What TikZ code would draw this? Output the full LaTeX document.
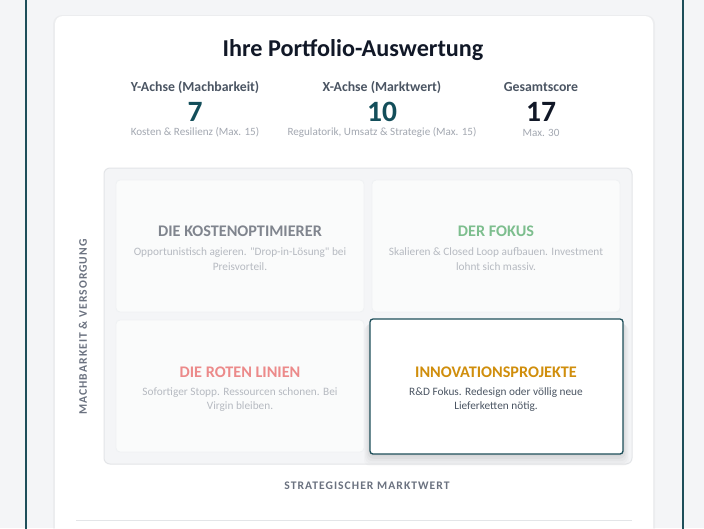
\documentclass[tikz,border=0pt]{standalone}
\usepackage{fontspec}
\setmainfont{Carlito}
\newfontfamily\spacedfont[LetterSpace=9]{Carlito}
\newfontfamily\descfont{Carlito}
\definecolor{pagebg}{HTML}{F4F5F7}
\definecolor{frameteal}{HTML}{1E4F5A}
\definecolor{titlecol}{HTML}{111827}
\definecolor{labelcol}{HTML}{4B5563}
\definecolor{subcol}{HTML}{A3A8B1}
\definecolor{numteal}{HTML}{134E5A}
\definecolor{boxbg}{HTML}{F4F5F7}
\definecolor{boxline}{HTML}{E3E5E8}
\definecolor{cellbg}{HTML}{FAFBFB}
\definecolor{cellline}{HTML}{EFF1F3}
\definecolor{fadegray}{HTML}{80858E}
\definecolor{fadegreen}{HTML}{7DBE8E}
\definecolor{fadered}{HTML}{EC8A8A}
\definecolor{amber}{HTML}{D08E0C}
\definecolor{fadetext}{HTML}{B6BAC1}
\definecolor{activetext}{HTML}{4B5563}
\definecolor{axiscol}{HTML}{6B7280}
\begin{document}
\begin{tikzpicture}[x=1pt,y=-1pt,
  stitle/.style={font=\fontsize{13.8}{16}\selectfont\bfseries, text=labelcol, inner sep=0},
  snum/.style={font=\fontsize{29.5}{32}\selectfont\bfseries, text=numteal, inner sep=0},
  ssub/.style={font=\fontsize{11.1}{13}\selectfont, text=subcol, inner sep=0},
  cell/.style={draw=cellline, fill=cellbg, rounded corners=4pt, line width=0.8pt},
  ctitle/.style={font=\fontsize{16.2}{18}\selectfont\bfseries, inner sep=0},
  cdesc/.style={font=\fontsize{11.3}{14.5}\descfont, text=fadetext, align=center, inner sep=0},
  axislabel/.style={font=\fontsize{11.6}{13}\spacedfont\bfseries, text=axiscol, inner sep=0}
]
\useasboundingbox (0,0) rectangle (704,528);
\fill[pagebg] (0,0) rectangle (704,528);
% card
\fill[black, opacity=0.03] (53,15) [rounded corners=9pt] rectangle (655,540);
\fill[white, rounded corners=8pt] (55,16) rectangle (653,540);
% outer frame lines
\draw[frameteal, line width=1.6pt] (25.8,-2) -- (25.8,530);
\draw[frameteal, line width=1.6pt] (683,-2) -- (683,530);
% title and stats
\node[font=\fontsize{24.2}{28}\selectfont\bfseries, text=titlecol, inner sep=0] (title) at (353,50) {Ihre Portfolio-Auswertung};
\node[stitle] (ylab) at (195,87) {Y-Achse (Machbarkeit)};
\node[stitle] (xlab) at (382,87) {X-Achse (Marktwert)};
\node[stitle] (glab) at (541,87) {Gesamtscore};
\node[snum] (ynum) at (195,112) {7};
\node[snum] (xnum) at (382,112) {10};
\node[snum, text=titlecol] (gnum) at (541,112) {17};
\node[ssub] (ysub) at (195,132.5) {Kosten \& Resilienz (Max. 15)};
\node[ssub] (xsub) at (382,132.5) {Regulatorik, Umsatz \& Strategie (Max. 15)};
\node[ssub] (gsub) at (541,132.5) {Max. 30};
% matrix box
\draw[boxline, fill=boxbg, line width=1pt, rounded corners=6pt] (104,168) rectangle (632,464);
\draw[cell] (116,180) rectangle (364,312);
\draw[cell] (372,180) rectangle (620,312);
\draw[cell] (116,320) rectangle (364,452);
% active cell shadow
\foreach \s/\o in {10/0.015,8/0.02,6/0.025,4/0.03,2/0.035}{
  \fill[black, opacity=\o, rounded corners=6pt] (370-\s*0.6,319+\s*0.6) rectangle (623+\s*0.6,454+\s*1.2);
}
\draw[frameteal, fill=white, line width=1.3pt, rounded corners=3pt] (370,319) rectangle (623,454);
% cell texts
\node[ctitle, text=fadegray] (t1) at (240,231.5) {DIE KOSTENOPTIMIERER};
\node[cdesc] (d1) at (240,259) {Opportunistisch agieren. "Drop-in-Lösung" bei\\Preisvorteil.};
\node[ctitle, text=fadegreen] (t2) at (496,231.5) {DER FOKUS};
\node[cdesc] (d2) at (496,259) {Skalieren \& Closed Loop aufbauen. Investment\\lohnt sich massiv.};
\node[ctitle, text=fadered] (t3) at (240,372) {DIE ROTEN LINIEN};
\node[cdesc] (d3) at (240,399.5) {Sofortiger Stopp. Ressourcen schonen. Bei\\Virgin bleiben.};
\node[ctitle, text=amber] (t4) at (496,372) {INNOVATIONSPROJEKTE};
\node[cdesc, text=activetext] (d4) at (496,399.5) {R\&D Fokus. Redesign oder völlig neue\\Lieferketten nötig.};
% axis labels
\node[axislabel, rotate=90] (yaxis) at (83,327) {MACHBARKEIT \& VERSORGUNG};
\node[axislabel] (xaxis) at (367,486) {STRATEGISCHER MARKTWERT};
% bottom divider
\draw[boxline, line width=0.8pt] (76,520.5) -- (632,520.5);
\end{tikzpicture}
\end{document}
